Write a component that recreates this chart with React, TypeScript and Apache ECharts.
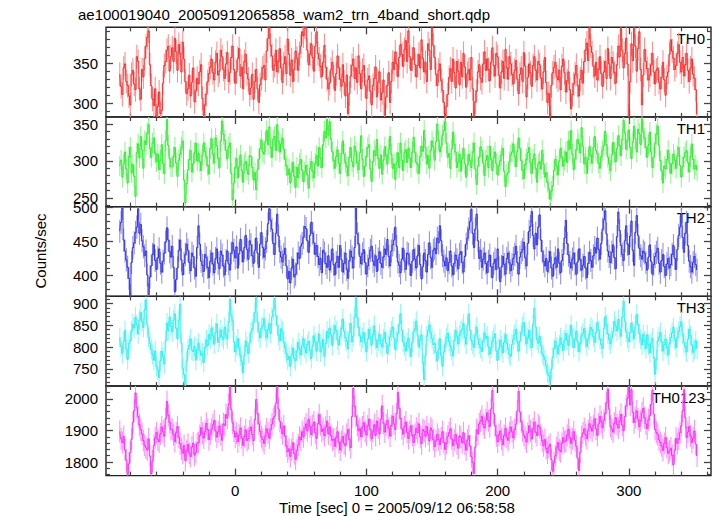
import React, { useEffect, useRef } from 'react';
import * as echarts from 'echarts';

const TITLE = 'ae100019040_20050912065858_wam2_trn_4band_short.qdp';
const X_LABEL = 'Time [sec] 0 = 2005/09/12 06:58:58';
const Y_LABEL = 'Counts/sec';
const BAND_NAMES = ['TH0', 'TH1', 'TH2', 'TH3', 'TH0123'];

// time bins: first bin centre and bin width (sec)
const T_START = -88;
const BIN = 1;

const TH0 = [
  336,321,311,344,349,327,322,309,298,336,341,324,317,358,352,318,305,342,333,356,
  371,382,390,348,322,305,297,318,284,296,314,287,291,325,347,352,366,371,340,358,
  369,352,381,364,341,373,362,339,376,355,327,312,318,335,309,326,344,302,315,331,
  324,339,348,306,285,298,311,327,337,345,355,338,329,351,362,335,340,366,358,342,
  331,349,363,327,338,357,371,342,325,339,356,368,334,345,318,352,361,337,330,311,
  319,336,305,327,342,318,301,323,331,344,347,329,365,381,395,372,359,341,347,366,
  339,352,368,344,326,349,358,337,380,361,335,354,327,342,365,356,341,362,371,389,
  384,395,393,366,348,361,374,357,340,371,389,362,355,346,333,351,372,345,330,318,
  325,342,351,333,316,337,359,344,330,321,348,326,309,335,287,312,334,347,355,331,
  344,326,359,337,318,341,347,322,306,329,334,315,298,322,331,345,308,327,339,304,
  313,329,285,308,322,338,301,327,351,342,364,349,333,357,373,361,346,367,378,352,
  390,358,341,355,369,348,333,347,361,344,379,356,339,351,327,374,366,342,394,372,
  357,336,322,341,349,328,316,301,273,296,311,332,343,327,355,338,319,352,340,323,
  351,333,362,345,320,337,342,329,357,318,277,302,315,339,348,331,326,349,364,341,
  355,342,328,351,369,347,334,362,358,335,319,339,352,331,367,344,330,358,349,336,
  324,341,353,330,312,336,344,327,363,346,308,332,349,338,321,347,358,341,329,352,
  348,331,318,339,357,326,301,312,282,322,338,345,351,333,329,341,317,346,355,338,
  314,328,339,317,293,311,324,336,347,322,309,330,341,325,352,366,375,353,395,371,
  363,346,334,351,329,342,358,337,321,339,352,331,368,349,331,357,350,338,325,348,
  371,358,393,366,344,362,381,349,284,327,374,353,395,371,340,368,389,342,298,335,
  367,352,343,329,335,348,362,339,324,341,344,326,318,332,351,329,310,333,339,361,
  379,365,356,342,347,362,373,351,339,357,334,348,362,341,327,344,355,336,331,317,
  286,
];

const TH1 = [
  293,301,278,296,312,289,270,306,318,284,295,279,252,311,323,304,333,315,290,327,
  322,338,349,317,305,324,331,310,299,309,288,301,322,296,283,327,356,321,303,292,
  292,306,318,297,279,301,309,318,327,274,243,269,288,302,314,285,296,311,324,300,
  310,299,287,308,324,313,305,294,282,317,330,309,297,331,321,303,291,327,354,336,
  328,314,303,319,324,283,247,270,291,303,277,292,308,287,271,296,299,288,282,307,
  306,291,274,284,261,288,302,317,328,312,309,326,341,322,346,318,305,329,333,314,
  349,327,312,323,331,316,302,293,281,289,270,285,298,279,264,291,277,296,302,287,
  272,285,294,281,263,290,299,286,277,297,307,293,318,304,291,322,340,331,356,335,
  353,329,312,301,290,306,315,297,283,310,327,309,298,292,280,305,318,299,292,320,
  313,297,288,311,334,302,279,293,306,318,322,289,272,299,314,307,329,303,290,308,
  282,301,319,307,296,316,333,309,290,296,275,298,311,291,324,301,287,311,315,298,
  317,304,291,312,332,311,298,295,283,306,320,313,341,318,296,307,290,314,327,319,
  301,326,350,328,312,319,335,341,353,324,305,310,290,316,339,322,312,291,299,309,
  286,303,317,296,278,294,309,300,291,312,324,289,268,293,305,319,314,297,280,301,
  307,291,320,302,287,305,312,296,281,293,300,308,317,286,265,281,284,299,308,312,
  323,306,292,313,331,317,300,288,276,295,302,311,318,297,283,302,309,290,271,296,
  299,289,314,296,278,284,271,262,248,259,266,287,302,293,281,300,317,305,293,301,
  312,298,327,316,341,309,288,303,315,329,323,311,345,320,296,305,283,302,319,308,
  297,318,333,314,310,297,290,306,314,321,340,322,305,296,287,308,325,311,299,317,
  334,321,307,329,355,338,316,327,342,318,303,325,347,330,312,343,337,322,357,339,
  331,318,305,322,339,312,291,305,324,336,347,321,300,287,270,293,289,302,314,297,
  283,296,309,301,290,307,318,294,278,292,305,311,314,298,285,306,323,302,289,294,
  287,
];

const TH2 = [
  465,478,499,452,436,423,412,396,371,419,441,448,463,471,498,462,475,451,442,429,
  436,401,372,398,414,431,445,422,409,426,439,418,405,421,433,449,470,452,435,427,
  443,412,376,394,411,437,452,423,401,418,431,446,437,419,407,433,428,411,399,441,
  473,446,421,415,406,431,426,412,397,421,433,417,404,425,439,418,410,436,430,414,
  401,422,436,417,408,433,448,437,426,442,411,432,453,436,420,441,459,438,424,451,
  445,429,418,437,455,433,412,446,463,441,427,439,450,476,498,481,468,447,431,462,
  490,458,435,427,420,431,440,414,395,406,389,411,424,398,402,417,433,425,443,447,
  456,472,469,451,434,459,478,462,448,431,444,428,416,425,404,437,433,418,412,429,
  408,421,439,416,401,419,428,412,444,423,405,418,433,409,396,422,436,427,411,441,
  499,461,447,428,417,432,438,419,402,414,425,437,443,421,415,429,406,424,435,418,
  412,427,439,431,453,428,414,436,445,452,471,443,420,415,404,424,440,421,409,433,
  431,417,400,421,438,424,411,429,444,416,395,413,433,422,405,431,448,426,412,437,
  440,432,455,448,473,451,429,421,414,426,407,419,436,414,401,418,430,423,410,431,
  435,419,405,428,446,455,468,479,497,462,441,468,490,451,425,437,412,424,433,418,
  404,421,430,413,397,418,424,409,439,411,391,413,428,416,402,425,433,419,407,416,
  425,431,443,419,402,427,434,438,449,426,414,447,465,472,494,459,439,462,445,471,
  489,452,435,421,414,425,406,420,435,411,399,417,426,412,439,418,404,422,431,455,
  481,447,430,419,411,424,433,417,402,420,439,423,408,415,428,411,397,418,434,422,
  412,429,441,433,455,438,424,447,468,482,495,461,436,428,419,434,445,426,410,457,
  493,466,444,431,422,451,473,446,431,458,480,437,415,463,488,459,440,429,424,436,
  433,419,408,427,445,421,402,416,428,434,440,418,405,422,431,413,400,417,425,411,
  416,431,444,425,409,438,459,471,490,456,434,462,478,444,421,413,405,419,428,416,
  408,
];

const TH3 = [
  822,801,786,812,838,795,772,808,815,837,852,844,868,851,830,862,879,858,845,886,
  908,851,822,809,795,783,770,791,756,748,731,769,790,777,762,814,855,838,869,847,
  835,862,876,843,819,861,898,809,751,737,713,768,795,804,819,793,790,801,770,796,
  808,792,781,786,765,799,816,803,829,818,844,826,807,833,853,811,822,839,824,817,
  845,828,819,857,909,871,860,812,789,803,819,797,781,768,741,782,814,801,786,809,
  834,842,856,879,913,858,834,821,843,849,865,838,822,840,854,831,869,884,911,872,
  850,827,814,842,836,811,799,785,771,779,756,783,798,774,769,791,810,796,782,803,
  819,798,787,806,813,792,774,803,826,811,791,812,830,789,800,817,779,808,836,821,
  843,828,804,831,849,838,817,805,825,842,864,836,822,814,796,833,854,812,825,869,
  913,868,845,826,812,821,833,809,790,818,841,823,805,830,848,817,799,814,829,807,
  801,818,834,809,786,804,823,837,846,821,795,814,831,852,876,839,812,803,791,811,
  820,797,779,811,836,842,859,827,800,816,828,764,726,781,825,838,850,833,820,806,
  808,788,769,796,819,781,756,789,805,822,831,812,802,793,780,815,838,823,808,827,
  836,841,853,822,807,849,876,838,815,807,799,828,845,819,806,798,790,815,832,819,
  825,801,784,798,813,822,830,791,770,797,816,803,787,811,828,809,796,784,779,806,
  818,829,841,812,791,814,833,847,856,826,808,821,838,817,799,852,889,846,817,809,
  824,803,786,779,771,758,742,735,721,749,777,796,813,799,785,804,821,807,792,816,
  831,815,804,827,850,821,799,818,836,812,790,808,825,832,843,819,802,817,829,845,
  840,824,811,833,856,838,819,806,797,842,869,851,830,817,808,822,835,859,848,837,
  863,841,825,868,905,859,834,821,812,833,854,836,819,848,875,852,831,818,805,829,
  813,797,828,805,787,809,820,776,738,771,814,823,833,812,791,806,818,799,782,808,
  822,833,845,817,799,822,836,847,858,829,810,801,789,818,841,826,805,788,796,814,
  796,
];

const TH0123 = [
  1897,1874,1862,1881,1838,1806,1761,1794,1831,1872,1925,1963,2019,1972,1944,1918,1902,1889,1868,1853,
  1845,1838,1873,1819,1762,1803,1852,1877,1893,1871,1864,1889,1911,1896,1882,1937,1992,1948,1926,1903,
  1904,1887,1865,1893,1912,1879,1858,1841,1828,1852,1805,1836,1856,1829,1818,1847,1860,1822,1831,1858,
  1862,1884,1909,1891,1876,1897,1922,1903,1871,1889,1904,1918,1931,1899,1879,1895,1914,1887,1869,1921,
  1916,1951,1939,1982,2038,1967,1924,1898,1879,1891,1864,1885,1907,1876,1853,1881,1902,1868,1875,1899,
  1911,1887,1868,1934,1998,1953,1921,1897,1880,1871,1859,1883,1905,1892,1876,1903,1920,1938,1945,1986,
  2036,1968,1929,1907,1890,1914,1882,1851,1833,1842,1818,1839,1861,1826,1809,1837,1854,1879,1870,1896,
  1880,1908,1921,1899,1936,1912,1887,1916,1927,1893,1875,1922,1950,1918,1897,1905,1884,1911,1930,1889,
  1911,1884,1869,1873,1850,1878,1896,1862,1838,1865,1881,1859,1852,1888,1903,1871,1846,1944,2034,1976,
  1945,1917,1899,1906,1880,1911,1925,1898,1886,1914,1936,1902,1874,1897,1918,1884,1930,1907,1889,1936,
  1978,1923,1895,1918,1932,1907,1882,1916,1945,1921,1903,1954,2021,1969,1938,1906,1888,1912,1927,1894,
  1875,1896,1915,1884,1862,1887,1907,1893,1921,1879,1858,1903,1898,1882,1912,1889,1867,1908,1900,1871,
  1849,1867,1888,1871,1855,1876,1896,1862,1840,1859,1881,1893,1905,1874,1852,1869,1887,1858,1844,1883,
  1878,1861,1893,1857,1838,1869,1883,1851,1817,1798,1764,1847,1902,1889,1921,1930,1945,1919,1908,1933,
  1956,1931,1912,1968,2027,1954,1915,1883,1864,1887,1898,1872,1855,1884,1906,1878,1869,1893,1911,1896,
  1877,1903,1920,1962,2024,1958,1927,1899,1885,1876,1864,1891,1915,1898,1873,1906,1926,1895,1884,1917,
  1910,1886,1867,1852,1871,1843,1829,1848,1856,1808,1771,1797,1820,1845,1862,1839,1833,1859,1877,1864,
  1867,1885,1903,1878,1859,1874,1896,1869,1850,1812,1773,1831,1880,1892,1905,1887,1874,1899,1921,1909,
  1898,1916,1937,1905,1884,1921,1945,1927,1909,1932,1955,1987,2031,1968,1913,1904,1895,1923,1940,1919,
  1908,1929,1951,1917,1899,1944,1978,2002,2036,1981,2029,1958,1925,1941,1962,1936,1912,1931,1956,1970,
  1940,1921,1906,1934,1947,1983,2027,1952,1903,1894,1887,1870,1862,1851,1837,1859,1877,1846,1828,1835,
  1844,1821,1792,1837,1875,1859,1872,1893,1915,1962,2029,1941,1878,1895,1912,1883,1862,1876,1898,1857,
  1819,
];

const RATES = [TH0, TH1, TH2, TH3, TH0123];
// half-length of the error bars (counts/sec), one per band
const ERRORS = [15, 14, 17, 23, 35];

// axes
const X_MIN = -98.5;
const X_MAX = 362.6;
const X_MAJOR = [0, 100, 200, 300];
const X_MINOR = [-80, -60, -40, -20, 20, 40, 60, 80, 120, 140, 160, 180, 220, 240, 260, 280, 320, 340, 360];

const Y_RANGES = [
  [283, 394.6],
  [238, 359.5],
  [369.5, 501],
  [711, 916],
  [1757, 2041],
];
const Y_MAJOR = [
  [300, 350],
  [250, 300, 350],
  [400, 450, 500],
  [750, 800, 850, 900],
  [1800, 1900, 2000],
];
const Y_MINOR = [
  [290, 310, 320, 330, 340, 360, 370, 380, 390],
  [240, 260, 270, 280, 290, 310, 320, 330, 340],
  [370, 380, 390, 410, 420, 430, 440, 460, 470, 480, 490],
  [720, 730, 740, 760, 770, 780, 790, 810, 820, 830, 840, 860, 870, 880, 890, 910],
  [1760, 1780, 1820, 1840, 1860, 1880, 1920, 1940, 1960, 1980, 2020, 2040],
];

// layout / style
const GRID_LEFT = 106;
const GRID_RIGHT = 6;
const GRID_TOPS = [27.3, 117, 206.7, 296.4, 386];
const GRID_H = 89.6;
const LINE_COLORS = ['#ff1a1a', '#1aee1a', '#2222e6', '#1af0f0', '#ff1aff'];
const ERR_COLORS = ['#ff9090', '#92f592', '#9292f2', '#92f7f7', '#ff92ff'];
const FONT = '"Liberation Sans", Arial, Helvetica, sans-serif';
const TICK_COLOR = '#444';

const fmt = (v: number) => String(v);

export default function App() {
  const ref = useRef<HTMLDivElement>(null);

  useEffect(() => {
    if (!ref.current) return;
    const chart = echarts.init(ref.current, undefined, { renderer: 'svg' });

    const grids: any[] = [];
    const xAxes: any[] = [];
    const yAxes: any[] = [];
    const series: any[] = [];
    const graphics: any[] = [];

    const tick = (len: number, values: number[], w: number) => ({
      show: true,
      inside: true,
      length: len,
      customValues: values,
      lineStyle: { color: TICK_COLOR, width: w },
    });

    for (let p = 0; p < 5; p++) {
      grids.push({
        left: GRID_LEFT,
        right: GRID_RIGHT,
        top: GRID_TOPS[p],
        height: GRID_H,
        show: true,
        borderColor: '#222',
        borderWidth: 1.4,
        backgroundColor: 'transparent',
      });
      const xBase = {
        type: 'value',
        gridIndex: p,
        min: X_MIN,
        max: X_MAX,
        axisLine: { show: false, onZero: false },
        splitLine: { show: false },
      };
      const xIndex = xAxes.length;
      xAxes.push({
        ...xBase,
        position: 'bottom',
        axisTick: tick(7, X_MAJOR, 1.3),
        axisLabel: {
          show: p === 4,
          customValues: X_MAJOR,
          formatter: fmt,
          fontFamily: FONT,
          fontSize: 15,
          color: '#000',
          margin: 7,
        },
      });
      xAxes.push({ ...xBase, position: 'bottom', axisTick: tick(4, X_MINOR, 1.2), axisLabel: { show: false } });
      xAxes.push({ ...xBase, position: 'top', axisTick: tick(7, X_MAJOR, 1.3), axisLabel: { show: false } });
      xAxes.push({ ...xBase, position: 'top', axisTick: tick(4, X_MINOR, 1.2), axisLabel: { show: false } });

      const yBase = {
        type: 'value',
        gridIndex: p,
        min: Y_RANGES[p][0],
        max: Y_RANGES[p][1],
        axisLine: { show: false, onZero: false },
        splitLine: { show: false },
      };
      const yIndex = yAxes.length;
      yAxes.push({
        ...yBase,
        position: 'left',
        axisTick: tick(7, Y_MAJOR[p], 1.3),
        axisLabel: {
          show: true,
          customValues: Y_MAJOR[p],
          formatter: fmt,
          fontFamily: FONT,
          fontSize: 15,
          color: '#000',
          margin: 8,
        },
      });
      yAxes.push({ ...yBase, position: 'left', axisTick: tick(4, Y_MINOR[p], 1.2), axisLabel: { show: false } });
      yAxes.push({ ...yBase, position: 'right', axisTick: tick(7, Y_MAJOR[p], 1.3), axisLabel: { show: false } });
      yAxes.push({ ...yBase, position: 'right', axisTick: tick(4, Y_MINOR[p], 1.2), axisLabel: { show: false } });

      const rates = RATES[p];
      const err = ERRORS[p];
      const data = rates.map((v, i) => [T_START + i * BIN, v, err]);
      const errColor = ERR_COLORS[p];

      series.push({
        type: 'custom',
        name: BAND_NAMES[p] + ' error',
        xAxisIndex: xIndex,
        yAxisIndex: yIndex,
        clip: true,
        silent: true,
        encode: { x: 0, y: 1 },
        data,
        renderItem: (_params: any, api: any) => {
          const x = api.value(0);
          const y = api.value(1);
          const e = api.value(2);
          const a = api.coord([x, y - e]);
          const b = api.coord([x, y + e]);
          return {
            type: 'line',
            shape: { x1: a[0], y1: a[1], x2: b[0], y2: b[1] },
            style: { stroke: errColor, lineWidth: 1.1 },
          };
        },
      });
      series.push({
        type: 'line',
        name: BAND_NAMES[p],
        xAxisIndex: xIndex,
        yAxisIndex: yIndex,
        step: 'middle',
        showSymbol: false,
        symbol: 'none',
        clip: true,
        silent: true,
        data: data.map((d) => [d[0], d[1]]),
        lineStyle: { color: LINE_COLORS[p], width: 0.9 },
        itemStyle: { color: LINE_COLORS[p] },
      });

      graphics.push({
        type: 'text',
        x: 705,
        y: GRID_TOPS[p] + 11,
        silent: true,
        style: {
          text: BAND_NAMES[p],
          fill: '#000',
          font: `15px ${FONT}`,
          align: 'right',
          verticalAlign: 'middle',
        },
      });
    }

    graphics.push({
      type: 'text',
      x: 78,
      y: 14,
      silent: true,
      style: { text: TITLE, fill: '#000', font: `15px ${FONT}`, align: 'left', verticalAlign: 'middle' },
    });
    graphics.push({
      type: 'text',
      x: 397,
      y: 507,
      silent: true,
      style: { text: X_LABEL, fill: '#000', font: `15px ${FONT}`, align: 'center', verticalAlign: 'middle' },
    });
    graphics.push({
      type: 'text',
      x: 40,
      y: 251,
      rotation: Math.PI / 2,
      silent: true,
      style: { text: Y_LABEL, fill: '#000', font: `15px ${FONT}`, align: 'center', verticalAlign: 'middle' },
    });

    chart.setOption({
      animation: false,
      backgroundColor: '#fff',
      grid: grids,
      xAxis: xAxes,
      yAxis: yAxes,
      series,
      graphic: graphics,
    });

    return () => chart.dispose();
  }, []);

  return (
    <div
      ref={ref}
      style={{ position: 'fixed', left: 0, top: 0, width: 717, height: 516, background: '#fff' }}
    />
  );
}
